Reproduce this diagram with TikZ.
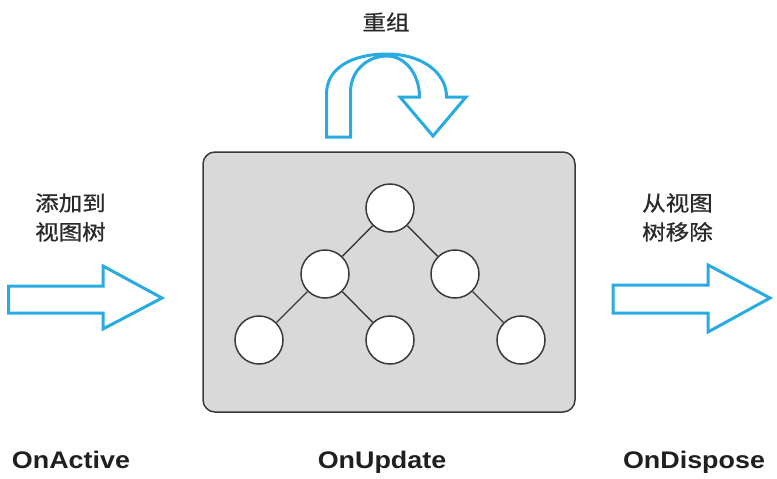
\documentclass[tikz,border=0pt]{standalone}
\usepackage{fontspec}
\setmainfont{Liberation Sans}
\newfontfamily\cjk[FakeBold=0.7]{Noto Sans CJK SC}
\usetikzlibrary{positioning,calc}
\definecolor{flowblue}{HTML}{29ABE2}
\definecolor{boxgray}{HTML}{D9D9D9}
\definecolor{edgegray}{HTML}{3A3A3A}
\definecolor{textgray}{HTML}{2A2A2A}
\newcommand{\wide}[1]{\scalebox{1.12}[1]{#1}}
\def\levelsep{66pt}
\def\sibsep{65pt}
\tikzset{
  treenode/.style={
    circle,
    draw=edgegray,
    line width=1.5pt,
    fill=white,
    minimum size=48pt,
    inner sep=0pt
  },
  treeedge/.style={draw=edgegray, line width=1.4pt},
  stage/.style={
    rectangle,
    draw=edgegray,
    line width=1.5pt,
    fill=boxgray,
    rounded corners=12pt,
    minimum width=372pt,
    minimum height=260pt
  },
  flowarrow/.style={draw=flowblue, line width=3pt, fill=white, line join=miter},
  cnlabel/.style={
    font=\cjk\fontsize{21}{29}\selectfont,
    text=textgray,
    align=left,
    inner sep=0pt
  },
  hooklabel/.style={
    font=\bfseries\fontsize{24}{28}\selectfont,
    text=black!88,
    inner sep=0pt,
    anchor=base
  },
}

\begin{document}
\begin{tikzpicture}[x=1pt, y=-1pt, node distance=\levelsep and \sibsep, on grid]
    \useasboundingbox (0,0) rectangle (777,479);

    %% Stage box
    \node[stage] (stage) at (389,282) {};

    %% Tree
    \node[treenode] (root) at (390,208) {};
    \node[treenode, below left=of root] (l1) {};
    \node[treenode, below right=of root] (r1) {};
    % Row 3
    \node[treenode, below left=\levelsep and 66pt of l1] (ll) {};
    \node[treenode, below right=of l1] (lm) {};
    \node[treenode, below right=\levelsep and 66pt of r1] (rr) {};

    \draw[treeedge] (root) -- (l1);
    \draw[treeedge] (root) -- (r1);
    \draw[treeedge] (l1) -- (ll);
    \draw[treeedge] (l1) -- (lm);
    \draw[treeedge] (r1) -- (rr);

    %% Arrows
    % In
    \draw[flowarrow] (8.5,286) -- (103,286) -- (103,266) -- (162,298)
        -- (103,329) -- (103,313) -- (8.5,313) -- cycle;
    % Out
    \draw[flowarrow] (613,285) -- (708,285) -- (708,265) -- (770,298)
        -- (708,332) -- (708,313) -- (613,313) -- cycle;
    % Recompose
    \draw[flowarrow] (326.5,137) -- (326.5,94)
        .. controls (326.5,68) and (352,54) .. (387,54)
        .. controls (421,54) and (446.5,72) .. (446.5,97)
        -- (466,97) -- (433,136) -- (400,97) -- (419.5,97)
        .. controls (419.5,74) and (405,56) .. (387,56)
        .. controls (368,56) and (350.5,70) .. (350.5,92)
        -- (350.5,137) -- cycle;

    %% Labels
    \node[cnlabel] (recomplbl) at (386,22) {\wide{重组}};
    \node[cnlabel, anchor=west] (addlbl) at (35,217.5) {\wide{添加到}\\\wide{视图树}};
    \node[cnlabel, anchor=west] (removelbl) at (642,217.5) {\wide{从视图}\\\wide{树移除}};

    \node[hooklabel] (active) at (71,468) {\wide{OnActive}};
    \node[hooklabel] (update) at (382,468) {\wide{OnUpdate}};
    \node[hooklabel] (dispose) at (694,468) {\wide{OnDispose}};
\end{tikzpicture}
\end{document}
